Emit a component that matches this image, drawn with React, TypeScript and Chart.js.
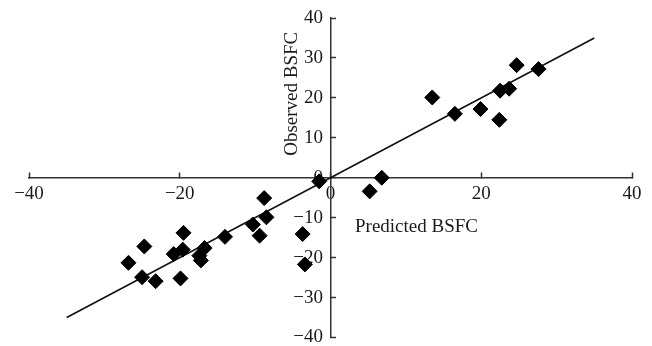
import React, { useEffect, useRef } from "react";
import { Chart, registerables } from "chart.js";

Chart.register(...registerables);

// Predicted (x) and observed (y) BSFC values
const predicted = [
  -26.8, -24.7, -25.0, -23.2, -20.8, -19.6, -19.5, -19.9, -17.4, -16.7,
  -17.2, -14.0, -10.3, -9.4, -8.8, -8.5, -1.5, -3.7, -3.4, 5.2,
  6.8, 13.5, 16.5, 19.9, 22.4, 22.5, 23.7, 24.7, 27.6,
];
const observed = [
  -21.3, -17.2, -24.9, -25.9, -19.1, -18.0, -13.8, -25.2, -19.5, -17.6,
  -20.7, -14.8, -11.7, -14.5, -5.1, -9.9, -0.9, -14.1, -21.7, -3.4,
  0.0, 20.1, 16.0, 17.2, 14.5, 21.8, 22.3, 28.2, 27.2,
];

// Fitted line endpoints
const fitX = [-35, 35];
const fitY = [-35, 35];

const xTitle = "Predicted BSFC";
const yTitle = "Observed BSFC";

const FONT = "'Liberation Serif', 'Times New Roman', serif";
const fmt = (v: number | string) => String(v).replace("-", "\u2212");

const titlePlugin = {
  id: "axisTitles",
  afterDraw(chart: any) {
    const ctx = chart.ctx;
    const xs = chart.scales.x;
    const ys = chart.scales.y;
    const ox = xs.getPixelForValue(0);
    const oy = ys.getPixelForValue(0);
    ctx.save();
    ctx.fillStyle = "#1a1a1a";
    ctx.font = `19px ${FONT}`;
    ctx.textAlign = "center";
    ctx.textBaseline = "alphabetic";
    ctx.fillText(xTitle, ox + 86, oy + 54);
    ctx.translate(ox - 34, oy - 84);
    ctx.rotate(-Math.PI / 2);
    ctx.fillText(yTitle, 0, 0);
    ctx.restore();
  },
};

export default function App() {
  const ref = useRef<HTMLCanvasElement | null>(null);
  useEffect(() => {
    if (!ref.current) return;
    const axisColor = "#333333";
    const chart = new Chart(ref.current, {
      type: "scatter",
      data: {
        datasets: [
          {
            type: "line",
            data: fitX.map((x, i) => ({ x, y: fitY[i] })),
            borderColor: "#111111",
            borderWidth: 1.6,
            pointRadius: 0,
            fill: false,
            order: 2,
          } as any,
          {
            data: predicted.map((x, i) => ({ x, y: observed[i] })),
            pointStyle: "rectRot",
            pointRadius: 7.5,
            backgroundColor: "#000000",
            borderColor: "#000000",
            borderWidth: 1,
            order: 1,
          },
        ],
      },
      options: {
        responsive: false,
        animation: false,
        layout: { padding: { left: 29, right: 20, top: 18, bottom: 8 } },
        plugins: {
          legend: { display: false },
          tooltip: { enabled: false },
        },
        scales: {
          x: {
            type: "linear",
            min: -40,
            max: 40,
            position: { y: 0 } as any,
            afterFit: (s: any) => {
              s.paddingLeft = 0;
              s.paddingRight = 0;
            },
            ticks: {
              stepSize: 20,
              autoSkip: false,
              maxRotation: 0,
              padding: 11,
              color: "#1a1a1a",
              font: { family: FONT, size: 19 },
              callback: (v: any) => fmt(v),
            },
            grid: {
              drawOnChartArea: false,
              drawTicks: true,
              tickLength: -6,
              tickWidth: 1.5,
              color: axisColor,
            },
            border: { display: true, color: axisColor, width: 1.5 },
          },
          y: {
            type: "linear",
            min: -40,
            max: 40,
            position: { x: 0 } as any,
            afterFit: (s: any) => {
              s.paddingTop = 0;
              s.paddingBottom = 0;
            },
            ticks: {
              stepSize: 10,
              autoSkip: false,
              color: "#1a1a1a",
              font: { family: FONT, size: 19 },
              callback: (v: any) => fmt(v) + "\u2009\u2009",
            },
            grid: {
              drawOnChartArea: false,
              drawTicks: true,
              tickLength: -6,
              tickWidth: 1.5,
              color: axisColor,
            },
            border: { display: true, color: axisColor, width: 1.5 },
          },
        },
      },
      plugins: [titlePlugin],
    });
    return () => chart.destroy();
  }, []);
  return (
    <div style={{ position: "fixed", left: 0, top: 0, width: 652, height: 346, background: "#fff" }}>
      <canvas ref={ref} width={652} height={346} style={{ display: "block" }} />
    </div>
  );
}
